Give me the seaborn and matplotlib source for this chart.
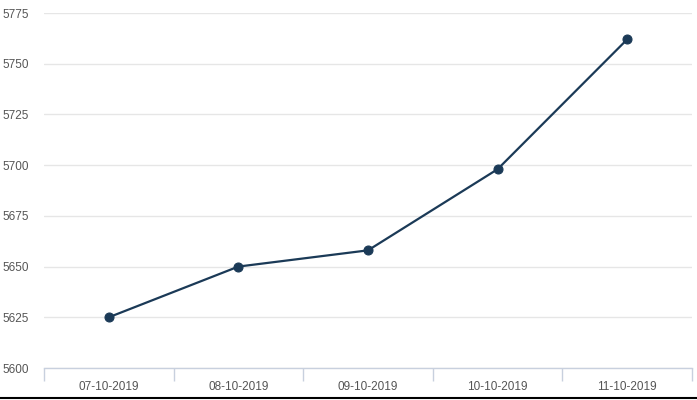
import matplotlib
matplotlib.use("Agg")
import matplotlib.pyplot as plt
import seaborn as sns
import pandas as pd
from matplotlib.lines import Line2D

dates = ["07-10-2019", "08-10-2019", "09-10-2019", "10-10-2019", "11-10-2019"]
values = [5625, 5650, 5658, 5698, 5762]
yticks = [5600, 5625, 5650, 5675, 5700, 5725, 5750, 5775]

sns.set_theme(style="white")
plt.rcParams['font.family'] = ['Liberation Sans', 'DejaVu Sans']

df = pd.DataFrame({"date": dates, "value": values})

W, H = 697, 400
fig = plt.figure(figsize=(W / 100, H / 100), dpi=100)
ax = fig.add_axes([44 / W, 32 / H, (692 - 44) / W, (368 - 13) / H])

line_color = "#1b3a57"
sns.lineplot(data=df, x="date", y="value", ax=ax, color=line_color,
             linewidth=1.6, marker="o", markersize=6.5,
             markeredgecolor=line_color, markerfacecolor=line_color, sort=False)

ax.set_xlim(-0.5, len(dates) - 0.5)
ax.set_ylim(5600, 5775)
ax.set_yticks(yticks)
ax.set_yticklabels([str(v) for v in yticks])
ax.set_xticks(range(len(dates)))
ax.set_xticklabels(dates)
ax.set_xticks([i - 0.5 for i in range(len(dates) + 1)], minor=True)
ax.tick_params(axis="x", which="major", bottom=True, length=0, pad=9,
               labelsize=8.5, labelcolor="#555555")
ax.tick_params(axis="x", which="minor", bottom=True, length=9, width=1,
               color="#c8d0de", direction="out")
ax.tick_params(axis="y", length=0, pad=11, labelsize=8.5, labelcolor="#555555")
ax.set_xlabel("")
ax.set_ylabel("")

ax.grid(axis="y", color="#e6e6e6", linewidth=1)
ax.set_axisbelow(True)
for side in ["top", "right", "left"]:
    ax.spines[side].set_visible(False)
ax.spines["bottom"].set_color("#c8d0de")
ax.spines["bottom"].set_linewidth(1)
ax.spines["bottom"].set_zorder(0.5)

fig.add_artist(Line2D([0, 1], [2.5 / H, 2.5 / H], transform=fig.transFigure,
                      color="black", linewidth=1.5))

fig.savefig("out.png", dpi=100)
